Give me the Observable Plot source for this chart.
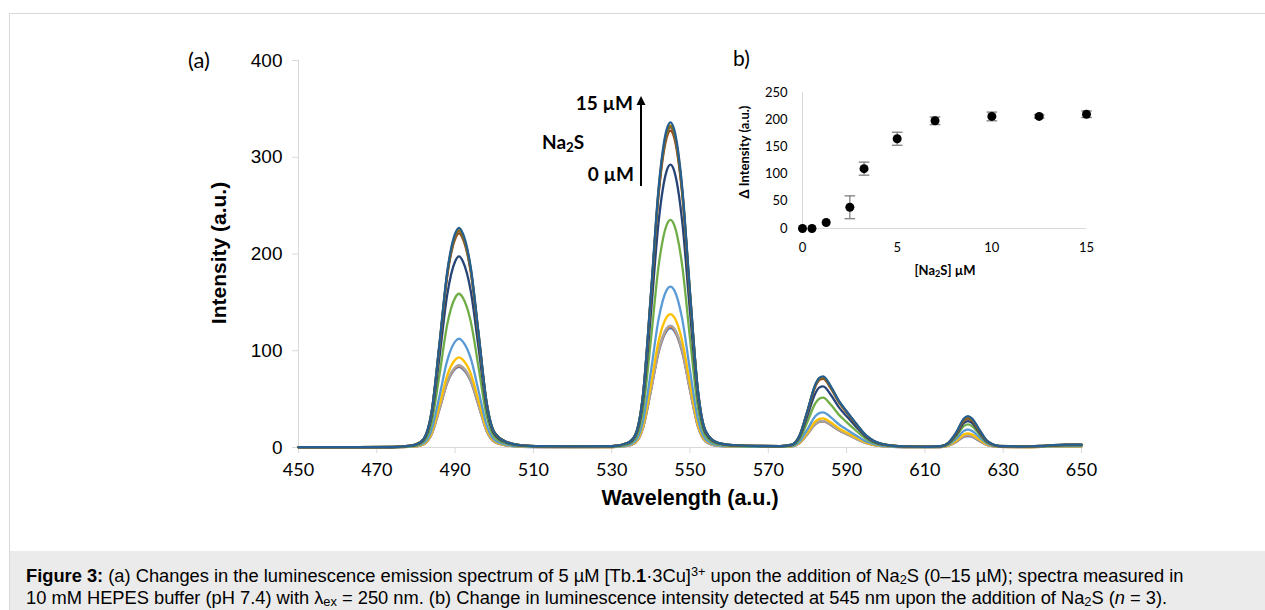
<!DOCTYPE html>
<html>
<head>
<meta charset="utf-8">
<script src="https://cdn.jsdelivr.net/npm/d3@7"></script>
<script src="https://cdn.jsdelivr.net/npm/@observablehq/plot@0.6"></script>
<style>
  html, body { margin: 0; padding: 0; background: #fff; }
  body { width: 1265px; height: 610px; overflow: hidden; position: relative; font-family: "Liberation Sans", Arial, sans-serif; }
  #frame { position: absolute; left: 9px; top: 13px; width: 1270px; height: 610px; border-left: 1px solid #d9d9d9; border-top: 1px solid #d9d9d9; }
  #caption { position: absolute; left: 10px; top: 551px; width: 1255px; height: 59px; background: #ebebeb; }
  #captext { position: absolute; left: 26px; top: 565px; font-size: 18.3px; line-height: 22px; color: #000; white-space: nowrap; font-family: "Liberation Sans", Arial, sans-serif; }
  #captext sup { font-size: 0.7em; line-height: 0; vertical-align: 0.45em; }
  #captext sub { font-size: 0.7em; line-height: 0; vertical-align: -0.15em; }
  #main, #inset { position: absolute; left: 0; top: 0; }
  #inset { left: 700px; top: 40px; }
  .ann { position: absolute; white-space: nowrap; line-height: 1; transform: translateY(-50%); color: #000; }
  .calib { font-family: Lato, "Open Sans", sans-serif; }
  .arial { font-family: "Liberation Sans", Arial, sans-serif; }
  .ann sub { font-size: 0.7em; line-height: 0; vertical-align: -0.25em; }
  #arrow { position: absolute; left: 635px; top: 94px; }
</style>
</head>
<body>
<div id="frame"></div>
<div id="caption"></div>
<div id="captext"><b>Figure 3:</b> (a) Changes in the luminescence emission spectrum of 5 µM [Tb.<b>1</b>·3Cu]<sup>3+</sup> upon the addition of Na<sub>2</sub>S (0–15 µM); spectra measured in<br>10 mM HEPES buffer (pH 7.4) with λ<sub>ex</sub> = 250 nm. (b) Change in luminescence intensity detected at 545 nm upon the addition of Na<sub>2</sub>S (<i>n</i> = 3).</div>
<div id="main"></div>
<div id="inset"></div>

<div class="ann calib" style="left:188px; top:60px; font-size:22px;">(a)</div>
<div class="ann calib" style="left:733px; top:57px; font-size:21px;">b)</div>
<div class="ann calib" style="right:632px; top:102px; font-size:19px; font-weight:bold;">15 µM</div>
<div class="ann calib" style="left:542px; top:141px; font-size:19px; font-weight:bold;">Na<sub>2</sub>S</div>
<div class="ann calib" style="right:631px; top:173px; font-size:19px; font-weight:bold;">0 µM</div>
<svg id="arrow" width="12" height="94"><path d="M6,2 L10.5,11 L1.5,11 Z" fill="#000"/><line x1="6" y1="9" x2="6" y2="92" stroke="#000" stroke-width="2"/></svg>

<div class="ann arial" style="left:218px; top:253px; font-size:21px; font-weight:bold; transform: translate(-50%,-50%) rotate(-90deg);">Intensity (a.u.)</div>
<div class="ann arial" style="left:690px; top:499px; font-size:21.5px; font-weight:bold; transform: translate(-50%,-50%);">Wavelength (a.u.)</div>
<div class="ann calib" style="left:744px; top:152px; font-size:13px; font-weight:bold; transform: translate(-50%,-50%) rotate(-90deg);">Δ Intensity (a.u.)</div>
<div class="ann calib" style="left:945px; top:270px; font-size:13px; font-weight:bold; transform: translate(-50%,-50%);">[Na<sub>2</sub>S] µM</div>

<script>
// ---------- Panel (a): emission spectra ----------
const wavelengths = [450,465,474,478,480,482,484,486,488,490,491,492,494,496,498,500,503,507,512,520,530,534,536,538,540,542,544,545,546,548,550,552,554,557,561,567,573,576,578,580,582,583,584,586,588,590,592,595,599,605,611,614,616,618,620,621,622,624,626,629,635,641,646,650];

const seriesNames = ["S1","S2","S3","S4","S5","S6","S7","S8","S9","S10","S11"];
const seriesColors = ["#4472C4","#ED7D31","#A5A5A5","#FFC000","#5B9BD5","#70AD47","#264478","#9E480E","#636363","#997300","#255E91"];

const s1 = [0.1,0.1,0.2,0.6,1.2,3.3,13.6,39.3,66.8,81.1, 83.3,81.1,68.3,43.3,17.6,5.9,2.2,0.8,0.5,0.4, 0.5,1.7,4.8,20.2,58,98.7,120.4,123.3,120.4,98.7, 59.1,22,6.2,1.8,0.9,0.6,0.6,1.1,4.6,13.9, 23.9,26.4,27,23.1,17.8,13.8,9.9,4.6,1.4,0.4, 0.3,0.5,1.8,5.7,11.1,11.9,11.1,6.6,2.4,0.6, 0.4,0.7,1.1,1.1];
const s2 = [0.1,0.1,0.2,0.6,1.2,3.3,13.8,39.8,67.7,82.2, 84.4,82.2,69.2,43.9,17.9,6,2.2,0.9,0.5,0.4, 0.5,1.7,4.8,20.5,58.8,100.1,122,125,122,100.1, 59.9,22.3,6.3,1.9,0.9,0.6,0.6,1.1,4.7,14.1, 24.2,26.8,27.3,23.4,18,14,10,4.7,1.4,0.4, 0.3,0.5,1.9,5.9,11.6,12.5,11.6,6.9,2.5,0.6, 0.4,0.7,1.1,1.1];
const s3 = [0.1,0.1,0.2,0.6,1.2,3.4,13.9,40.1,68.3,82.9, 85.1,82.9,69.8,44.3,18,6,2.3,0.9,0.5,0.4, 0.5,1.8,4.9,20.6,59.3,100.9,123,126,123,100.9, 60.4,22.5,6.4,1.9,0.9,0.6,0.6,1.1,4.7,14.3, 24.4,27,27.6,23.6,18.2,14.1,10.1,4.7,1.4,0.4, 0.3,0.5,2,6.2,12.1,13,12.1,7.2,2.6,0.6, 0.4,0.8,1.1,1.1];
const s4 = [0.1,0.1,0.2,0.7,1.3,3.7,15.2,43.9,74.6,90.6, 93.1,90.6,76.3,48.4,19.7,6.6,2.5,0.9,0.6,0.5, 0.5,1.9,5.3,22.6,64.8,110.3,134.5,137.8,134.5,110.3, 66,24.6,7,2.1,1,0.7,0.6,1.2,5.1,15.6, 26.7,29.5,30.1,25.8,19.9,15.4,11.1,5.1,1.5,0.5, 0.3,0.6,2.2,7,13.6,14.6,13.6,8.1,2.9,0.7, 0.5,0.8,1.2,1.2];
const s5 = [0.1,0.1,0.2,0.8,1.6,4.5,18.3,53,90.1,109.4, 112.4,109.4,92.1,58.4,23.8,7.9,3,1.1,0.7,0.5, 0.6,2.3,6.4,27.2,78.2,133.2,162.4,166.3,162.4,133.2, 79.7,29.7,8.4,2.5,1.2,0.8,0.7,1.4,6.2,18.8, 32.2,35.6,36.4,31.2,24,18.6,13.4,6.2,1.8,0.5, 0.4,0.7,2.8,8.9,17.2,18.5,17.2,10.2,3.7,0.9, 0.6,1,1.5,1.5];
const s6 = [0.2,0.2,0.4,1.1,2.2,6.3,25.9,74.9,127.4,154.7, 158.9,154.7,130.2,82.6,33.6,11.2,4.2,1.6,1,0.8, 0.9,3.3,9.1,38.5,110.6,188.3,229.6,235.2,229.6,188.3, 112.7,42,11.9,3.5,1.7,1.1,1.1,2,8.8,26.6, 45.5,50.4,51.5,44.1,34,26.3,18.9,8.8,2.6,0.8, 0.6,1,3.6,11.5,22.3,24,22.3,13.2,4.8,1.2, 0.7,1.4,2.1,2.1];
const s7 = [0.3,0.3,0.4,1.4,2.8,7.8,32.2,93.1,158.3,192.3, 197.5,192.3,161.8,102.7,41.8,13.9,5.2,2,1.2,1, 1.1,4.1,11.3,47.9,137.5,234,285.4,292.3,285.4,234, 140.1,52.2,14.8,4.4,2.1,1.4,1.3,2.5,10.8,32.7, 55.9,61.9,63.2,54.2,41.7,32.3,23.2,10.8,3.2,0.9, 0.7,1.1,4.1,13.1,25.4,27.3,25.4,15,5.5,1.3, 0.8,1.7,2.6,2.6];
const s8 = [0.3,0.3,0.5,1.6,3.1,8.8,36.1,104.3,177.5,215.5, 221.3,215.5,181.4,115.1,46.8,15.6,5.9,2.2,1.4,1.1, 1.3,4.6,12.7,53.6,154.1,262.3,319.8,327.6,319.8,262.3, 157,58.5,16.6,4.9,2.3,1.6,1.4,2.8,12.1,36.7, 62.8,69.6,71,60.9,46.9,36.2,26.1,12.1,3.6,1.1, 0.7,1.2,4.5,14.4,27.8,29.9,27.8,16.5,6,1.5, 0.9,1.8,2.8,2.8];
const s9 = [0.3,0.3,0.5,1.6,3.2,8.9,36.4,105.4,179.3,217.7, 223.6,217.7,183.2,116.2,47.3,15.8,5.9,2.3,1.4,1.1, 1.3,4.6,12.8,54.2,155.6,265,323.1,331,323.1,265, 158.6,59.1,16.7,4.9,2.4,1.6,1.5,2.9,12.3,37.4, 64,70.9,72.4,62.1,47.8,36.9,26.6,12.3,3.6,1.1, 0.8,1.2,4.7,14.8,28.7,30.9,28.7,17,6.2,1.5, 1,2,3,3];
const s10 = [0.3,0.3,0.5,1.6,3.2,8.9,36.6,105.9,180.2,218.8, 224.7,218.8,184.1,116.8,47.5,15.8,5.9,2.3,1.4,1.1, 1.3,4.7,12.9,54.5,156.4,266.3,324.7,332.6,324.7,266.3, 159.4,59.4,16.8,5,2.4,1.6,1.5,2.9,12.4,37.6, 64.4,71.3,72.8,62.4,48,37.1,26.7,12.4,3.7,1.1, 0.8,1.3,4.8,15.1,29.3,31.5,29.3,17.4,6.3,1.6, 1,2,3,3];
const s11 = [0.3,0.3,0.5,1.6,3.2,9,37,107,182,221, 227,221,186,118,48,16,6,2.3,1.4,1.1, 1.3,4.7,13,55,158,269,328,336,328,269, 161,60,17,5,2.4,1.6,1.5,2.9,12.5,38, 65,72,73.5,63,48.5,37.5,27,12.5,3.7,1.1, 0.8,1.3,4.9,15.6,30.2,32.5,30.2,17.9,6.5,1.6, 1,2,3,3];

const xTicks = [450,470,490,510,530,550,570,590,610,630,650];
const yTicks = [0,100,200,300,400];

// ---------- Panel (b): inset ----------
const conc = [0, 0.5, 1.25, 2.5, 3.25, 5, 7, 10, 12.5, 15];
const deltaI = [0, 0, 11, 39, 110, 165, 198, 206, 206, 210];
const errI = [0, 0, 0, 21, 12, 12, 7, 8, 3, 6];
const insetXTicks = [0, 5, 10, 15];
const insetYTicks = [0, 50, 100, 150, 200, 250];

// build tidy table for spectra
const allSeries = [s1,s2,s3,s4,s5,s6,s7,s8,s9,s10,s11];
const spectra = [];
allSeries.forEach((vals, k) => {
  vals.forEach((v, i) => spectra.push({w: wavelengths[i], v, s: seriesNames[k]}));
});

const axisGray = "#d9d9d9";

const mainPlot = Plot.plot({
  width: 1265,
  height: 550,
  marginLeft: 298,
  marginRight: 184,
  marginTop: 60,
  marginBottom: 103,
  style: {background: "transparent", overflow: "visible"},
  x: {domain: [450, 650], label: null},
  y: {domain: [0, 400], label: null},
  color: {domain: seriesNames, range: seriesColors},
  marks: [
    Plot.ruleX([450], {stroke: axisGray, strokeWidth: 1}),
    Plot.ruleY([0], {stroke: axisGray, strokeWidth: 1}),
    Plot.axisX({ticks: xTicks, tickSize: 6, tickFormat: () => "", stroke: axisGray, label: null}),
    Plot.axisY({ticks: yTicks, tickSize: 6, tickFormat: () => "", stroke: axisGray, label: null}),
    Plot.axisX({ticks: xTicks, tickSize: 0, tickPadding: 16, fontSize: 18, fontFamily: "Lato", fill: "#000", label: null}),
    Plot.axisY({ticks: yTicks, tickSize: 0, tickPadding: 16, fontSize: 19, fontFamily: "Liberation Sans", fill: "#000", label: null}),
    Plot.line(spectra, {x: "w", y: "v", z: "s", stroke: "s", strokeWidth: 2.3, curve: "monotone-x"})
  ]
});
document.getElementById("main").appendChild(mainPlot);

const insetData = conc.map((c, i) => ({c, d: deltaI[i], e: errI[i]}));
const errData = insetData.filter(d => d.e > 0);
const capSymbol = {
  draw(context, size) {
    const w = Math.sqrt(size) * 0.6;
    context.moveTo(-w, 0);
    context.lineTo(w, 0);
  }
};

const insetPlot = Plot.plot({
  width: 420,
  height: 260,
  marginLeft: 102,
  marginRight: 34,
  marginTop: 52,
  marginBottom: 72,
  style: {background: "transparent", overflow: "visible"},
  x: {domain: [0, 15], label: null},
  y: {domain: [0, 250], label: null},
  marks: [
    Plot.ruleX([0], {stroke: axisGray, strokeWidth: 1}),
    Plot.ruleY([0], {stroke: axisGray, strokeWidth: 1}),
    Plot.axisX({ticks: insetXTicks, tickSize: 0, tickPadding: 14, fontSize: 13, fontFamily: "Lato", fill: "#000", label: null}),
    Plot.axisY({ticks: insetYTicks, tickSize: 0, tickPadding: 15, fontSize: 13, fontFamily: "Lato", fill: "#000", label: null}),
    Plot.ruleX(errData, {x: "c", y1: d => d.d - d.e, y2: d => d.d + d.e, stroke: "#808080", strokeWidth: 1.3}),
    Plot.dot(errData, {x: "c", y: d => d.d - d.e, symbol: capSymbol, r: 5, stroke: "#808080", strokeWidth: 1.3}),
    Plot.dot(errData, {x: "c", y: d => d.d + d.e, symbol: capSymbol, r: 5, stroke: "#808080", strokeWidth: 1.3}),
    Plot.dot(insetData, {x: "c", y: "d", r: 4.5, fill: "#000", stroke: "none"})
  ]
});
document.getElementById("inset").appendChild(insetPlot);
</script>
</body>
</html>
